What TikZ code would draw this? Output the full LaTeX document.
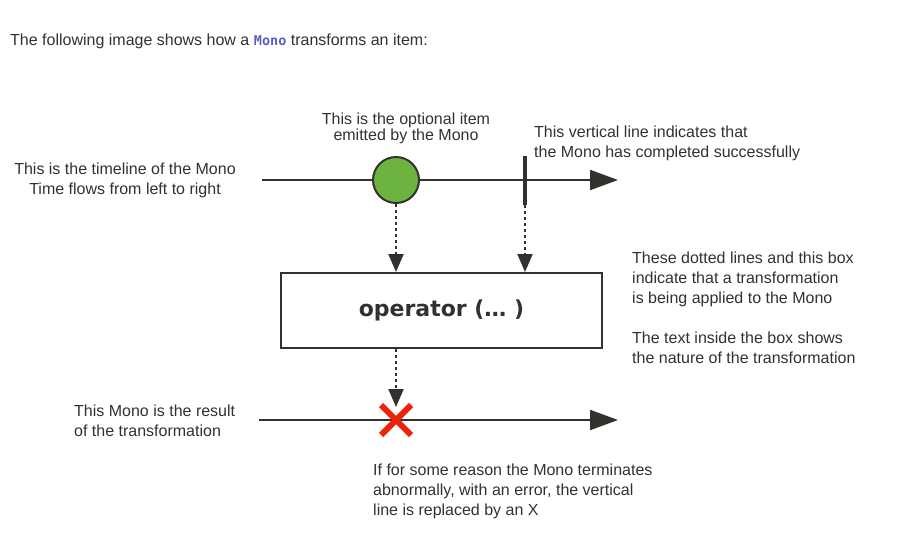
\documentclass[tikz,border=0pt]{standalone}
\usepackage{fontspec}
\setmainfont{Liberation Sans}
\newfontfamily\codefont{DejaVu Sans Mono}
\newfontfamily\boxfont{DejaVu Sans}
\usetikzlibrary{arrows.meta}
\definecolor{ink}{RGB}{51,49,46}
\definecolor{item_green}{RGB}{109,179,63}
\definecolor{error_red}{RGB}{236,34,10}
\definecolor{code_blue}{RGB}{88,96,190}

\tikzset{
	note/.style={inner sep=0pt,font=\fontsize{16}{20}\selectfont,text=ink},
	timeline/.style={ink,line width=2pt,-{Triangle[length=28pt,width=20pt]}},
	flow/.style={ink,line width=2pt,dash pattern=on 3pt off 3pt,-{Triangle[length=18pt,width=15pt]}}
}

\begin{document}
\begin{tikzpicture}[x=1pt,y=-1pt]
	\useasboundingbox (0,0) rectangle (912,543);
	% header line
	\node[anchor=base west,inner sep=0pt,font=\fontsize{16}{19}\selectfont,text=ink] (head) at (10,46)
		{The following image shows how a {\codefont\bfseries\fontsize{13.5}{16}\selectfont\color{code_blue}Mono} transforms an item:};

	% source timeline
	\coordinate (t1s) at (262,180);
	\coordinate (t1e) at (618,180);
	\draw[timeline] (t1s) -- (t1e);
	\node[circle,draw=ink,line width=2pt,fill=item_green,minimum size=46pt,inner sep=0pt] (item) at (396,180) {};
	\coordinate (doneTop) at (525,156);
	\coordinate (doneBot) at (525,205);
	\draw[ink,line width=4pt] (doneTop) -- (doneBot);

	% operator box
	\node[draw=ink,line width=2pt,minimum width=321pt,minimum height=75pt,inner sep=0pt,
		font=\boxfont\fontsize{22}{26}\selectfont\bfseries,text=ink] (op) at (441.5,310.5) {operator (… )};

	% result timeline
	\coordinate (t2s) at (259,420);
	\coordinate (t2e) at (618,420);
	\draw[timeline] (t2s) -- (t2e);
	\coordinate (err) at (396,420);
	\draw[error_red,line width=6pt] ([shift={(-15,-15)}]err) -- ([shift={(15,15)}]err)
		([shift={(-15,15)}]err) -- ([shift={(15,-15)}]err);

	% dotted transformations
	\draw[flow] (item.south) -- (item.south |- op.north);
	\draw[flow] (doneBot) -- (doneBot |- op.north);
	\coordinate (errTop) at (396,407);
	\draw[flow] (item.south |- op.south) -- (errTop);

	% notes
	\node[note,align=center] (nTime) at (125,180) {This is the timeline of the Mono\\Time flows from left to right};
	\node[note,align=center,font=\fontsize{16}{16}\selectfont] (nItem) at (406,128) {This is the optional item\\emitted by the Mono};
	\node[note,align=left,anchor=west] (nDone) at (534,143) {This vertical line indicates that\\the Mono has completed successfully};
	\node[note,align=left,anchor=north west] (nOp) at (632,252) {These dotted lines and this box\\indicate that a transformation\\is being applied to the Mono\\[20pt]The text inside the box shows\\the nature of the transformation};
	\node[note,align=left,anchor=west] (nRes) at (74,421) {This Mono is the result\\of the transformation};
	\node[note,align=left,anchor=north west] (nErr) at (373,464) {If for some reason the Mono terminates\\abnormally, with an error, the vertical\\line is replaced by an X};
\end{tikzpicture}
\end{document}
